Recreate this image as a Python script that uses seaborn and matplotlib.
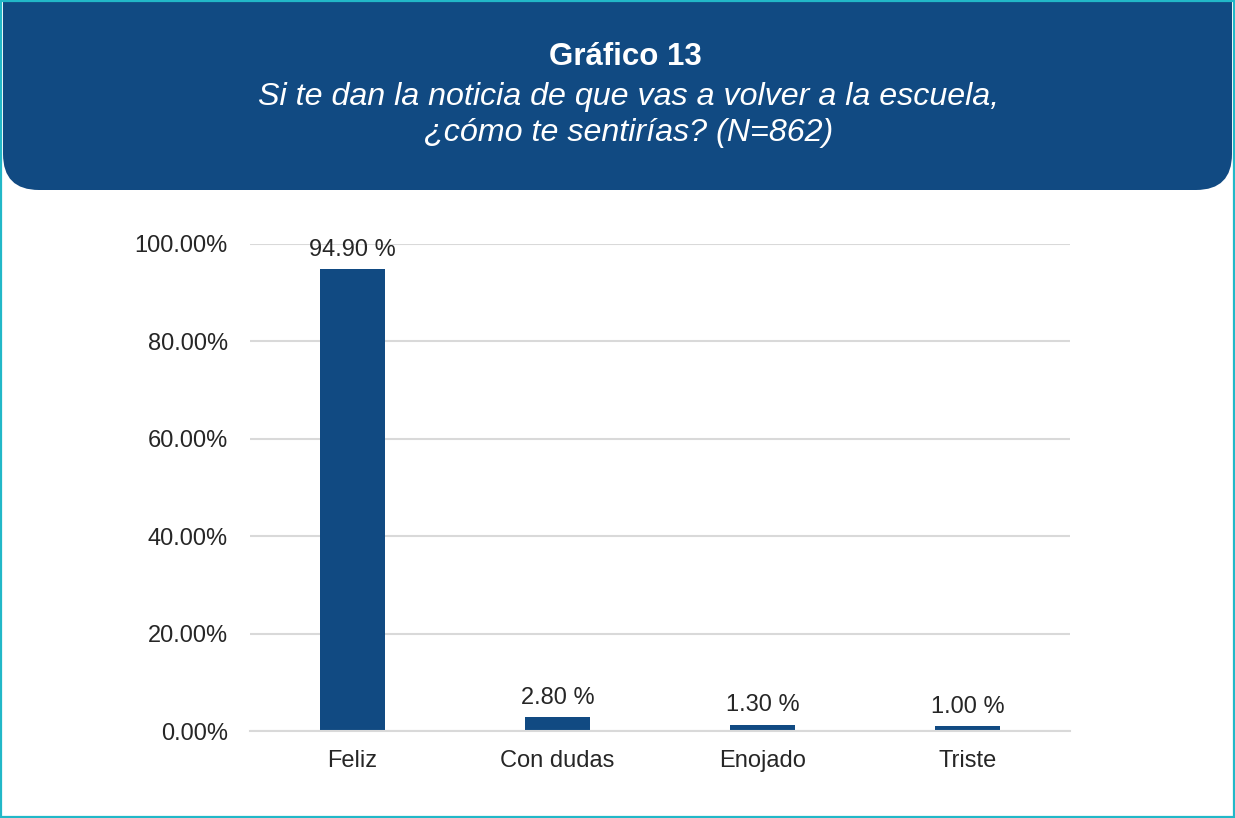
import matplotlib
matplotlib.use("Agg")
import matplotlib.pyplot as plt
from matplotlib.patches import FancyBboxPatch, Rectangle
import seaborn as sns
import pandas as pd

categories = ["Feliz", "Con dudas", "Enojado", "Triste"]
values = [94.90, 2.80, 1.30, 1.00]
value_labels = ["94.90 %", "2.80 %", "1.30 %", "1.00 %"]
yticks = [0, 20, 40, 60, 80, 100]
ytick_labels = ["0.00%", "20.00%", "40.00%", "60.00%", "80.00%", "100.00%"]
title = "Gráfico 13"
subtitle_lines = ["Si te dan la noticia de que vas a volver a la escuela,",
                  "¿cómo te sentirías? (N=862)"]

BLUE = "#114A82"
CYAN = "#22B8C8"
GRID = "#D9D9D9"
TXT = "#262626"

sns.set_theme(style="white")
plt.rcParams["font.family"] = ["Liberation Sans", "DejaVu Sans"]

W, H = 1235, 818
fig = plt.figure(figsize=(W / 100, H / 100), dpi=100)

# background layer in pixel coordinates
bg = fig.add_axes([0, 0, 1, 1], zorder=0)
bg.set_xlim(0, W)
bg.set_ylim(H, 0)
bg.axis("off")
hdr = FancyBboxPatch((3, -60), W - 6, 60 + 190, boxstyle="round,pad=0,rounding_size=36",
                     facecolor=BLUE, edgecolor="none")
bg.add_patch(hdr)
bg.add_patch(Rectangle((1, 1), W - 2, H - 2.5, facecolor="none", edgecolor=CYAN, linewidth=1.6))
bg.text(625, 57, title, color="white", fontsize=22.5, fontweight="bold", ha="center", va="center")
for yy, line in zip([97, 133], subtitle_lines):
    bg.text(629, yy, line, color="white", fontsize=23.2, fontstyle="italic", ha="center",
            va="center")

df = pd.DataFrame({"cat": categories, "val": values})
ax = fig.add_axes([250 / W, 1 - 731 / H, 820 / W, (731 - 244) / H], zorder=1)
ax.patch.set_alpha(0)
sns.barplot(data=df, x="cat", y="val", color=BLUE, saturation=1, width=0.315, linewidth=0, ax=ax)
ax.set_ylim(0, 100)
ax.set_xlim(-0.5, 3.5)
ax.set_yticks(yticks)
ax.set_yticklabels(ytick_labels)
ax.yaxis.grid(True, color=GRID, linewidth=1.5)
ax.set_axisbelow(True)
for s in ["top", "right", "left"]:
    ax.spines[s].set_visible(False)
ax.spines["bottom"].set_color(GRID)
ax.spines["bottom"].set_linewidth(1.5)
ax.tick_params(axis="both", length=0, labelsize=17, colors=TXT)
ax.tick_params(axis="x", pad=14)
ax.tick_params(axis="y", pad=16)
ax.set_xlabel("")
ax.set_ylabel("")
for i, (v, lab) in enumerate(zip(values, value_labels)):
    ax.annotate(lab, (i, v), xytext=(0, 6), textcoords="offset points", ha="center",
                va="bottom", fontsize=17, color=TXT)

fig.savefig("out.png", dpi=100)
